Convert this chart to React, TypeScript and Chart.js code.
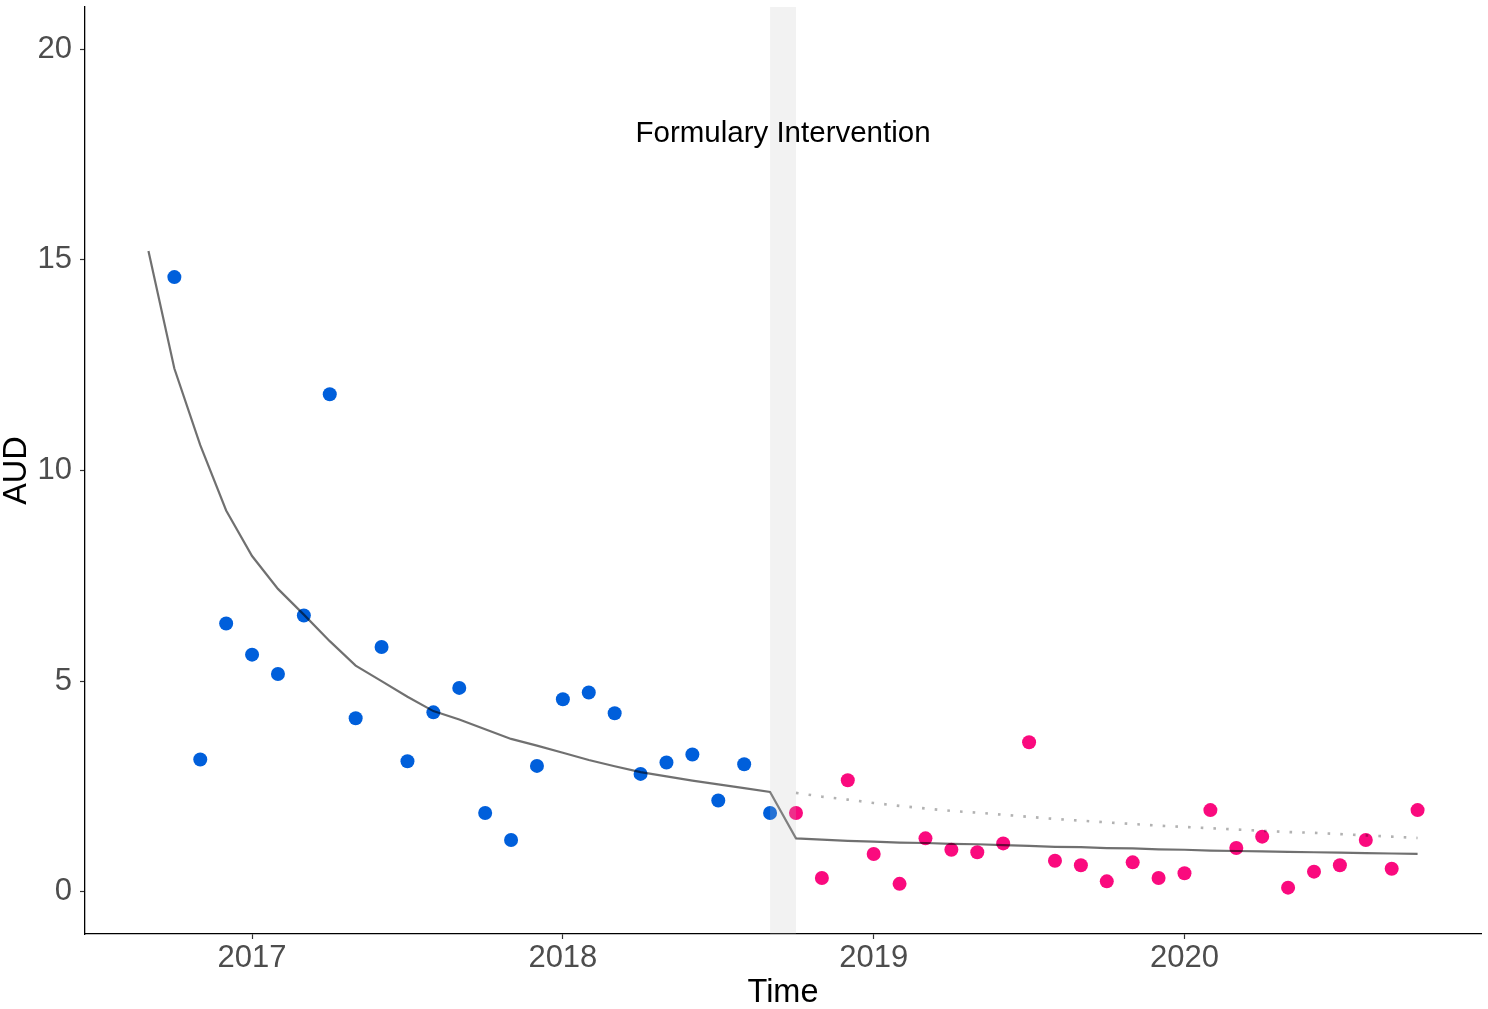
import React, { useEffect, useRef } from "react";
import { Chart, registerables } from "chart.js";

Chart.register(...registerables);

// ---- data ----
const preMonths = [
  "2016-10", "2016-11", "2016-12",
  "2017-01", "2017-02", "2017-03", "2017-04", "2017-05", "2017-06",
  "2017-07", "2017-08", "2017-09", "2017-10", "2017-11", "2017-12",
  "2018-01", "2018-02", "2018-03", "2018-04", "2018-05", "2018-06",
  "2018-07", "2018-08", "2018-09",
];
const postMonths = [
  "2018-10", "2018-11", "2018-12",
  "2019-01", "2019-02", "2019-03", "2019-04", "2019-05", "2019-06",
  "2019-07", "2019-08", "2019-09", "2019-10", "2019-11", "2019-12",
  "2020-01", "2020-02", "2020-03", "2020-04", "2020-05", "2020-06",
  "2020-07", "2020-08", "2020-09", "2020-10",
];
const fitStartMonth = "2016-09";

const preValues = [
  14.59, 3.14, 6.37, 5.63, 5.17, 6.56, 11.81, 4.12, 5.81, 3.1, 4.26, 4.84,
  1.87, 1.23, 2.99, 4.57, 4.73, 4.24, 2.8, 3.07, 3.26, 2.17, 3.03, 1.87,
];
const postValues = [
  1.87, 0.33, 2.65, 0.9, 0.19, 1.27, 1.0, 0.94, 1.15, 3.55, 0.74, 0.63, 0.25,
  0.7, 0.33, 0.44, 1.94, 1.04, 1.31, 0.1, 0.48, 0.63, 1.23, 0.55, 1.94,
];
// fitted segmented trend (first value at fitStartMonth, then preMonths)
const fitPre = [
  15.21, 12.42, 10.6, 9.05, 7.97, 7.19, 6.58, 5.95, 5.37, 5.0, 4.63, 4.29,
  4.09, 3.86, 3.63, 3.47, 3.3, 3.13, 2.98, 2.84, 2.74, 2.64, 2.55, 2.46, 2.37,
];
const fitPost = [
  1.27, 1.24, 1.21, 1.19, 1.17, 1.16, 1.14, 1.13, 1.11, 1.09, 1.07, 1.06, 1.04,
  1.03, 1.01, 1.0, 0.98, 0.97, 0.96, 0.95, 0.94, 0.93, 0.92, 0.91, 0.9,
];
const counterfactual = [
  2.35, 2.26, 2.19, 2.11, 2.04, 1.98, 1.92, 1.88, 1.83, 1.78, 1.73, 1.69, 1.65,
  1.61, 1.57, 1.54, 1.51, 1.48, 1.45, 1.42, 1.4, 1.37, 1.34, 1.31, 1.28,
];
const interventionStart = "2018-09";
const interventionEnd = "2018-10";
const annotationText = "Formulary Intervention";
const annotationY = 18;
const xTicks = [2017, 2018, 2019, 2020];
const yTicks = [0, 5, 10, 15, 20];
const xRange = [2016.4625, 2020.954];
const yRange = [-1, 21];

const toYear = (m: string) => {
  const [y, mo] = m.split("-").map(Number);
  return y + (mo - 1) / 12;
};
const pts = (months: string[], vals: number[]) =>
  months.map((m, i) => ({ x: toYear(m), y: vals[i] }));

const FONT = '"Liberation Sans", Arial, sans-serif';

const bandPlugin = {
  id: "band",
  afterDatasetsDraw(chart: any) {
    const { ctx, chartArea, scales } = chart;
    const x0 = scales.x.getPixelForValue(toYear(interventionStart));
    const x1 = scales.x.getPixelForValue(toYear(interventionEnd));
    ctx.save();
    ctx.fillStyle = "rgba(190,190,190,0.2)";
    ctx.fillRect(x0, chartArea.top, x1 - x0, chartArea.bottom - chartArea.top);
    ctx.fillStyle = "#000000";
    ctx.font = `29.5px ${FONT}`;
    ctx.textAlign = "center";
    ctx.textBaseline = "middle";
    ctx.fillText(annotationText, (x0 + x1) / 2, scales.y.getPixelForValue(annotationY));
    ctx.restore();
  },
};

export default function App() {
  const ref = useRef<HTMLCanvasElement>(null);
  useEffect(() => {
    if (!ref.current) return;
    const chart = new Chart(ref.current, {
      type: "scatter",
      data: {
        datasets: [
          {
            type: "line",
            data: pts([fitStartMonth, ...preMonths, ...postMonths], [...fitPre, ...fitPost]),
            borderColor: "rgba(0,0,0,0.56)",
            borderWidth: 2.2,
            pointRadius: 0,
            tension: 0,
            fill: false,
          },
          {
            type: "line",
            data: pts(postMonths, counterfactual),
            borderColor: "rgba(0,0,0,0.3)",
            borderWidth: 2.6,
            borderDash: [2.6, 10.1],
            pointRadius: 0,
            tension: 0,
            fill: false,
          },
          {
            data: pts(preMonths, preValues),
            backgroundColor: "#005FDB",
            borderWidth: 0,
            pointRadius: 7,
          },
          {
            data: pts(postMonths, postValues),
            backgroundColor: "#FA0A7E",
            borderWidth: 0,
            pointRadius: 7,
          },
        ],
      } as any,
      options: {
        animation: false,
        responsive: false,
        devicePixelRatio: 1,
        layout: { padding: { top: 1, right: 2, left: 0, bottom: 0 } },
        plugins: { legend: { display: false }, tooltip: { enabled: false } },
        scales: {
          x: {
            type: "linear",
            min: xRange[0],
            max: xRange[1],
            afterBuildTicks: (s: any) => {
              s.ticks = xTicks.map((v) => ({ value: v }));
            },
            afterFit: (s: any) => {
              s.height = 75;
              s.paddingLeft = 0;
              s.paddingRight = 0;
            },
            ticks: {
              callback: (v: any) => String(v),
              color: "#4D4D4D",
              font: { family: FONT, size: 31, lineHeight: 1.2 },
              padding: 1,
              maxRotation: 0,
            },
            grid: {
              display: true,
              drawOnChartArea: false,
              drawTicks: true,
              tickLength: 5,
              tickColor: "#333333",
              tickWidth: 1.2,
            },
            border: { display: true, color: "#000000", width: 1.3 },
            title: {
              display: true,
              text: "Time",
              color: "#000000",
              font: { family: FONT, size: 32.5, lineHeight: 1 },
              padding: { top: 0, bottom: 0 },
            },
          },
          y: {
            type: "linear",
            min: yRange[0],
            max: yRange[1],
            afterBuildTicks: (s: any) => {
              s.ticks = yTicks.map((v) => ({ value: v }));
            },
            afterFit: (s: any) => {
              s.width = 85;
              s.paddingTop = 0;
              s.paddingBottom = 0;
            },
            ticks: {
              callback: (v: any) => String(v),
              color: "#4D4D4D",
              font: { family: FONT, size: 31 },
              padding: 8,
            },
            grid: {
              display: true,
              drawOnChartArea: false,
              drawTicks: true,
              tickLength: 5,
              tickColor: "#333333",
              tickWidth: 1.2,
            },
            border: { display: true, color: "#000000", width: 1.3 },
            title: {
              display: true,
              text: "AUD",
              color: "#000000",
              font: { family: FONT, size: 32.5, lineHeight: 1 },
              padding: { top: 1, bottom: 0 },
            },
          },
        },
      } as any,
      plugins: [bandPlugin],
    });
    return () => chart.destroy();
  }, []);

  return (
    <div
      style={{
        position: "fixed",
        left: 0,
        top: 0,
        width: 1488,
        height: 1009,
        background: "#ffffff",
      }}
    >
      <canvas ref={ref} width={1488} height={1009} style={{ width: 1488, height: 1009 }} />
    </div>
  );
}
